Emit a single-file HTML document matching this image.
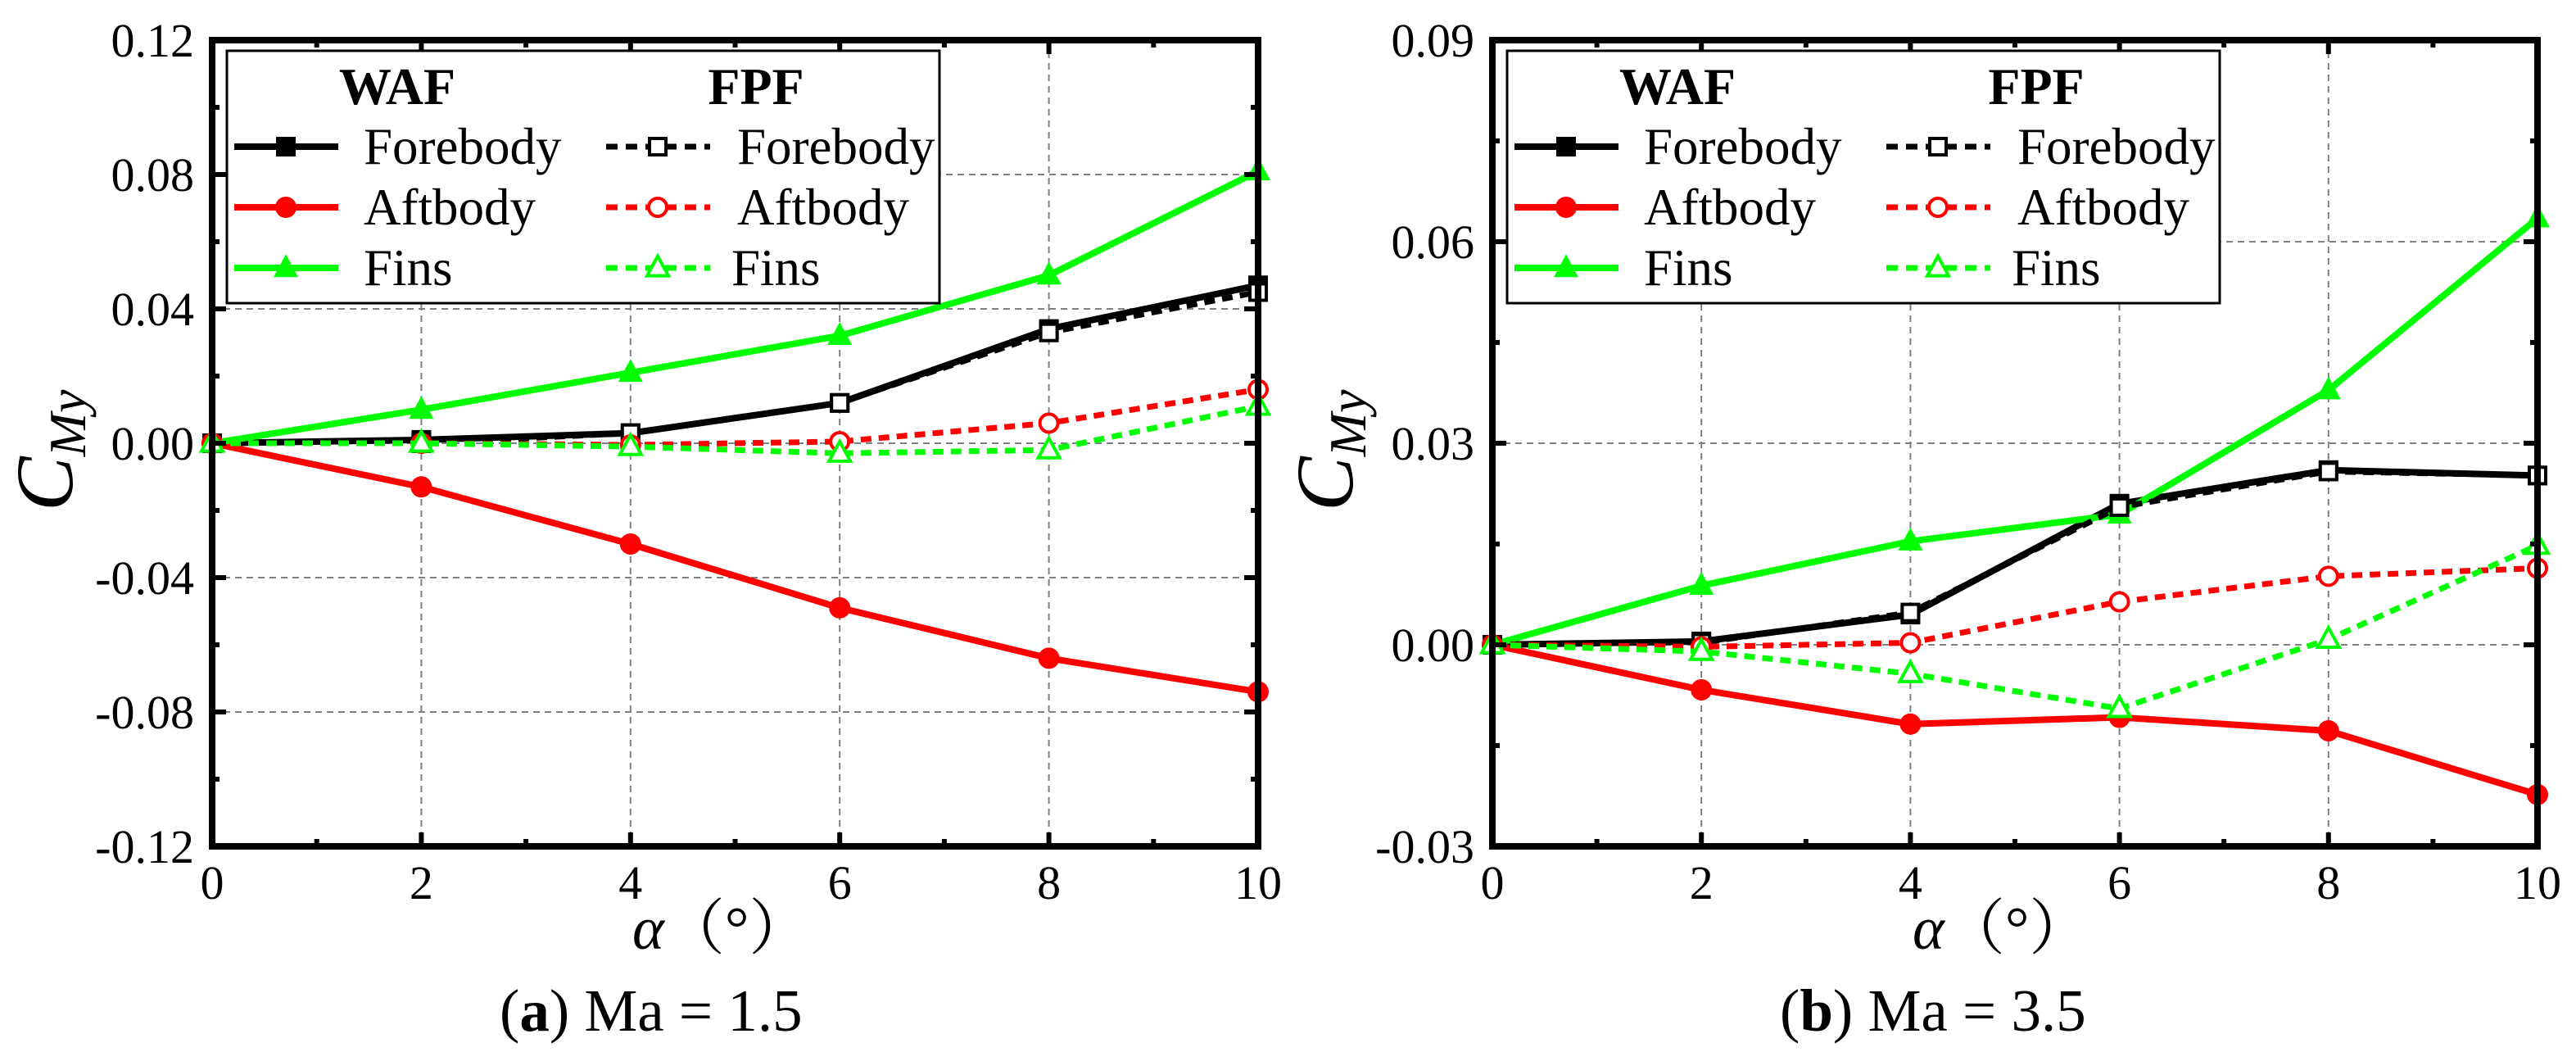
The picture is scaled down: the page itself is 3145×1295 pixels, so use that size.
<!DOCTYPE html>
<html><head><meta charset="utf-8">
<style>
html,body{margin:0;padding:0;background:#fff;}
svg{display:block;}
</style></head>
<body>
<svg id="chart" width="3145" height="1295" viewBox="0 0 3145 1295" xmlns="http://www.w3.org/2000/svg" font-family="Liberation Serif, serif">
<rect x="0" y="0" width="3145" height="1295" fill="#fff"/>
</svg>
<script>
// ---- data ----
const alphaValues = [0, 2, 4, 6, 8, 10];
const xTickLabels = ["0", "2", "4", "6", "8", "10"];
// Panel (a) Ma = 1.5
const aWafForebody = [0, 0.001, 0.003, 0.012, 0.034, 0.047];
const aFpfForebody = [0, 0.0, 0.003, 0.012, 0.033, 0.045];
const aWafAftbody = [0, -0.013, -0.030, -0.049, -0.064, -0.074];
const aFpfAftbody = [0, 0.0, -0.0005, 0.0005, 0.006, 0.016];
const aWafFins = [0, 0.010, 0.021, 0.032, 0.050, 0.081];
const aFpfFins = [0, 0.0, -0.001, -0.003, -0.002, 0.011];
const aYTicks = [-0.12, -0.08, -0.04, 0.00, 0.04, 0.08, 0.12];
const aYTickLabels = ["-0.12", "-0.08", "-0.04", "0.00", "0.04", "0.08", "0.12"];
// Panel (b) Ma = 3.5
const bWafForebody = [0, 0.0005, 0.0045, 0.021, 0.026, 0.0252];
const bFpfForebody = [0, 0.0003, 0.0048, 0.0205, 0.0258, 0.0252];
const bWafAftbody = [0, -0.0067, -0.0118, -0.0108, -0.0128, -0.0223];
const bFpfAftbody = [0, -0.0003, 0.0003, 0.0064, 0.0102, 0.0114];
const bWafFins = [0, 0.0088, 0.0154, 0.0194, 0.0379, 0.0635];
const bFpfFins = [0, -0.001, -0.0043, -0.0095, 0.0008, 0.0148];
const bYTicks = [-0.03, 0.00, 0.03, 0.06, 0.09];
const bYTickLabels = ["-0.03", "0.00", "0.03", "0.06", "0.09"];

const NS = "http://www.w3.org/2000/svg";
const svg = document.getElementById("chart");
const SERIF = "Liberation Serif, serif";
function mk(tag, attrs, parent) {
  const e = document.createElementNS(NS, tag);
  for (const k in attrs) e.setAttribute(k, attrs[k]);
  if (tag === "text" && !attrs["font-family"]) e.setAttribute("font-family", SERIF);
  (parent || svg).appendChild(e);
  return e;
}
const GREEN = "#00ff00", RED = "#ff0000", BLACK = "#000000";

function marker(g, type, x, y, color, open) {
  let m;
  const fill = open ? "#fff" : color;
  const sw = open ? 4 : 0;
  if (type === "square") {
    const s = open ? 20 : 24;
    m = mk("rect", {x: x - s/2, y: y - s/2, width: s, height: s, fill: fill, stroke: color, "stroke-width": sw}, g);
  } else if (type === "circle") {
    m = mk("circle", {cx: x, cy: y, r: open ? 11 : 13, fill: fill, stroke: color, "stroke-width": sw}, g);
  } else {
    const h = open ? 24 : 28, w = open ? 26 : 30;
    m = mk("polygon", {points: `${x},${y - h*0.6} ${x - w/2},${y + h*0.4} ${x + w/2},${y + h*0.4}`, fill: fill, stroke: color, "stroke-width": sw}, g);
  }
  return m;
}

function drawPanel(p) {
  const g = mk("g", {});
  
  
  const xs = v => p.L + (v - 0) / 10 * (p.R - p.L);
  const ys = v => p.B - (v - p.ymin) / (p.ymax - p.ymin) * (p.B - p.T);

  const grid = mk("g", {stroke: "#808080", "stroke-width": 2, "stroke-dasharray": "8 6"}, g);
  
  
  alphaValues.forEach((v, i) => { if (i > 0 && i < alphaValues.length - 1) mk("line", {x1: xs(v), x2: xs(v), y1: p.T, y2: p.B}, grid); });
  p.yticks.forEach((v, i) => { if (i > 0 && i < p.yticks.length - 1) mk("line", {x1: p.L, x2: p.R, y1: ys(v), y2: ys(v)}, grid); });

  const series = [
    {vals: p.wafF, color: BLACK, m: "square", open: false, dash: null, n: "waf-forebody-series"},
    {vals: p.wafA, color: RED, m: "circle", open: false, dash: null, n: "waf-aftbody-series"},
    {vals: p.wafS, color: GREEN, m: "tri", open: false, dash: null, n: "waf-fins-series"},
    {vals: p.fpfF, color: BLACK, m: "square", open: true, dash: "13 9", n: "fpf-forebody-series"},
    {vals: p.fpfA, color: RED, m: "circle", open: true, dash: "13 9", n: "fpf-aftbody-series"},
    {vals: p.fpfS, color: GREEN, m: "tri", open: true, dash: "13 9", n: "fpf-fins-series"}
  ];
  series.forEach(s => {
    const sg = mk("g", {}, g);
    
    
    const pts = s.vals.map((v, i) => `${xs(alphaValues[i])},${ys(v)}`).join(" ");
    const attrs = {points: pts, fill: "none", stroke: s.color, "stroke-width": s.dash ? 7 : 8, "stroke-linejoin": "round"};
    if (s.dash) attrs["stroke-dasharray"] = s.dash;
    mk("polyline", attrs, sg);
    s.vals.forEach((v, i) => {
      const m = marker(sg, s.m, xs(alphaValues[i]), ys(v), s.color, s.open);
      
      
    });
  });

  const frame = mk("rect", {x: p.L, y: p.T, width: p.R - p.L, height: p.B - p.T, fill: "none", stroke: "#000", "stroke-width": 8}, g);
  
  

  const tk = mk("g", {stroke: "#000", "stroke-width": 6}, g);
  
  
  for (let v = 1; v < 10; v++) {
    const len = v % 2 === 0 ? 17 : 9;
    mk("line", {x1: xs(v), x2: xs(v), y1: p.B, y2: p.B - len}, tk);
    mk("line", {x1: xs(v), x2: xs(v), y1: p.T, y2: p.T + len}, tk);
  }
  for (let i = 0; i < p.yticks.length; i++) {
    const v = p.yticks[i];
    if (i > 0 && i < p.yticks.length - 1) {
      mk("line", {x1: p.L, x2: p.L + 17, y1: ys(v), y2: ys(v)}, tk);
      mk("line", {x1: p.R, x2: p.R - 17, y1: ys(v), y2: ys(v)}, tk);
    }
    if (i < p.yticks.length - 1) {
      const mv = (v + p.yticks[i + 1]) / 2;
      mk("line", {x1: p.L, x2: p.L + 9, y1: ys(mv), y2: ys(mv)}, tk);
      mk("line", {x1: p.R, x2: p.R - 9, y1: ys(mv), y2: ys(mv)}, tk);
    }
  }

  alphaValues.forEach((v, i) => {
    const t = mk("text", {x: xs(v), y: 1097, "font-size": 58, "text-anchor": "middle", fill: "#000"}, g);
    t.textContent = xTickLabels[i];
    
    
  });
  p.yticks.forEach((v, i) => {
    const t = mk("text", {x: p.L - 22, y: ys(v) + 20, "font-size": 58, "text-anchor": "end", fill: "#000"}, g);
    t.textContent = p.ylabels[i];
    
    
  });

  const yt = mk("text", {transform: `translate(${p.off + 88},624) rotate(-90)`, "font-size": 100, "font-style": "italic", fill: "#000"}, g);
  
  
  yt.innerHTML = 'C<tspan font-size="64" dy="16">My</tspan>';
  const xt = mk("text", {x: p.off + 772, y: 1158, "font-size": 74, fill: "#000"}, g);
  
  
  xt.innerHTML = '<tspan font-style="italic">α</tspan><tspan font-family="Liberation Serif, Noto Serif CJK SC, serif">（°）</tspan>';
  const cap = mk("text", {x: p.off + 610, y: 1258, "font-size": 73, fill: "#000"}, g);
  
  
  cap.innerHTML = '(<tspan font-weight="bold">' + p.letter + '</tspan>) Ma = ' + p.ma;

  const lg = mk("g", {}, g);
  
  
  const o = p.off;
  mk("rect", {x: o + 277, y: 62, width: 870, height: 308, fill: "#fff", stroke: "#000", "stroke-width": 3}, lg);
  const h1 = mk("text", {x: o + 485, y: 127, "font-size": 64, "font-weight": "bold", "text-anchor": "middle"}, lg);
  h1.textContent = "WAF";
  
  
  const h2 = mk("text", {x: o + 923, y: 127, "font-size": 64, "font-weight": "bold", "text-anchor": "middle"}, lg);
  h2.textContent = "FPF";
  
  
  const rows = [["Forebody", BLACK, "square", 179], ["Aftbody", RED, "circle", 253], ["Fins", GREEN, "tri", 327]];
  rows.forEach(r => {
    const e1 = mk("g", {}, lg);
    
    
    mk("line", {x1: o + 286, x2: o + 413, y1: r[3], y2: r[3], stroke: r[1], "stroke-width": 8}, e1);
    marker(e1, r[2], o + 349, r[3], r[1], false);
    const t1 = mk("text", {x: o + 444, y: r[3] + 21, "font-size": 63}, e1);
    t1.textContent = r[0];
    const e2 = mk("g", {}, lg);
    
    
    mk("line", {x1: o + 740, x2: o + 867, y1: r[3], y2: r[3], stroke: r[1], "stroke-width": 7, "stroke-dasharray": "14 10"}, e2);
    marker(e2, r[2], o + 803, r[3], r[1], true);
    const t2 = mk("text", {x: o + (r[0] === "Fins" ? 893 : 900), y: r[3] + 21, "font-size": 63}, e2);
    t2.textContent = r[0];
  });
}

drawPanel({name: "panel-a-ma-1-5", letter: "a", ma: "1.5", off: 0, L: 259, R: 1536, T: 49, B: 1033,
  ymin: -0.12, ymax: 0.12, yticks: aYTicks, ylabels: aYTickLabels,
  wafF: aWafForebody, wafA: aWafAftbody, wafS: aWafFins, fpfF: aFpfForebody, fpfA: aFpfAftbody, fpfS: aFpfFins});
drawPanel({name: "panel-b-ma-3-5", letter: "b", ma: "3.5", off: 1563, L: 1822, R: 3098, T: 49, B: 1033,
  ymin: -0.03, ymax: 0.09, yticks: bYTicks, ylabels: bYTickLabels,
  wafF: bWafForebody, wafA: bWafAftbody, wafS: bWafFins, fpfF: bFpfForebody, fpfA: bFpfAftbody, fpfS: bFpfFins});
</script>
</body></html>
